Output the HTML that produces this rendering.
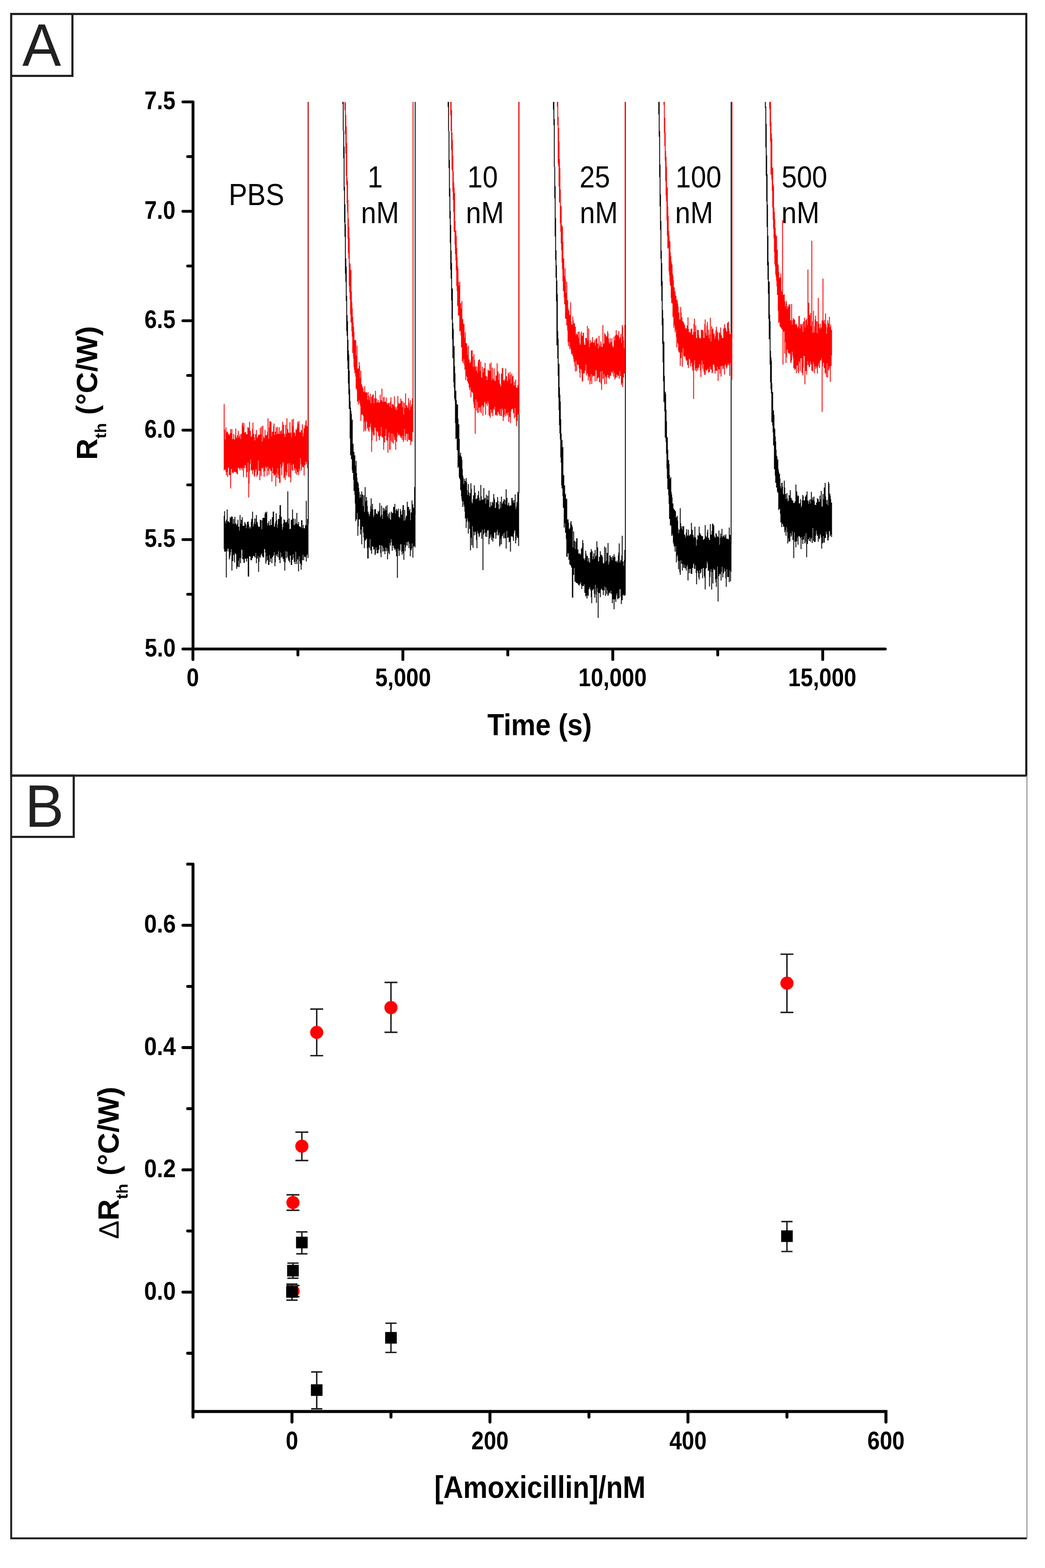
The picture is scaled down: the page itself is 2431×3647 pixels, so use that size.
<!DOCTYPE html><html><head><meta charset="utf-8"><title>Figure</title><style>html,body{margin:0;padding:0;background:#fff;}svg{display:block;}</style></head><body><svg width="2431" height="3647" viewBox="0 0 2431 3647">
<g fill="none" stroke="#222120">
<path d="M26,32.5 H2387.5 V1804 H26 Z" stroke-width="5"/>
<path d="M26,32.5 H168.5 V176.5 H26" stroke-width="5"/>
<path d="M26,1804 V3578 H2389" stroke-width="4.5"/>
<path d="M2389,1804 V3578" stroke="#8a8a8a" stroke-width="2.2"/>
<path d="M28,1804 H171.5 V1946.5 H28" stroke-width="5"/>
</g>
<text transform="translate(51.93,153.00) scale(0.963,1)" font-family="Liberation Sans, sans-serif" font-weight="normal" font-size="140" fill="#222120">A</text>
<text transform="translate(58.03,1923.10) scale(0.98,1)" font-family="Liberation Sans, sans-serif" font-weight="normal" font-size="138.6" fill="#222120">B</text>
<path d="M449,237.0 V1509.5 H2059.5 M425.5,237.0 H449 M436.5,364.2 H449 M425.5,491.5 H449 M436.5,618.8 H449 M425.5,746.0 H449 M436.5,873.2 H449 M425.5,1000.5 H449 M436.5,1127.8 H449 M425.5,1255.0 H449 M436.5,1382.2 H449 M425.5,1509.5 H449 M448.8,1509.5 V1534 M693.0,1509.5 V1523.5 M937.2,1509.5 V1534 M1181.3,1509.5 V1523.5 M1425.5,1509.5 V1534 M1669.7,1509.5 V1523.5 M1913.9,1509.5 V1534" stroke="#000" stroke-width="6.6" fill="none" stroke-linecap="round"/>
<text transform="translate(335.89,254.00) scale(0.88,1)" font-family="Liberation Sans, sans-serif" font-weight="bold" font-size="59" fill="#000">7.5</text>
<text transform="translate(335.89,508.50) scale(0.88,1)" font-family="Liberation Sans, sans-serif" font-weight="bold" font-size="59" fill="#000">7.0</text>
<text transform="translate(335.89,763.00) scale(0.88,1)" font-family="Liberation Sans, sans-serif" font-weight="bold" font-size="59" fill="#000">6.5</text>
<text transform="translate(335.89,1017.50) scale(0.88,1)" font-family="Liberation Sans, sans-serif" font-weight="bold" font-size="59" fill="#000">6.0</text>
<text transform="translate(335.89,1272.00) scale(0.88,1)" font-family="Liberation Sans, sans-serif" font-weight="bold" font-size="59" fill="#000">5.5</text>
<text transform="translate(336.41,1526.50) scale(0.88,1)" font-family="Liberation Sans, sans-serif" font-weight="bold" font-size="59" fill="#000">5.0</text>
<text transform="translate(433.89,1596.30) scale(0.88,1)" font-family="Liberation Sans, sans-serif" font-weight="bold" font-size="59" fill="#000">0</text>
<text transform="translate(872.66,1596.30) scale(0.88,1)" font-family="Liberation Sans, sans-serif" font-weight="bold" font-size="59" fill="#000">5,000</text>
<text transform="translate(1345.51,1596.30) scale(0.88,1)" font-family="Liberation Sans, sans-serif" font-weight="bold" font-size="59" fill="#000">10,000</text>
<text transform="translate(1833.41,1596.30) scale(0.88,1)" font-family="Liberation Sans, sans-serif" font-weight="bold" font-size="59" fill="#000">15,000</text>
<text transform="translate(1133.66,1709.60) scale(0.895,1)" font-family="Liberation Sans, sans-serif" font-weight="bold" font-size="71.2" fill="#000">Time (s)</text>
<text transform="translate(532.03,476.50) scale(0.923,1)" font-family="Liberation Sans, sans-serif" font-weight="normal" font-size="70" fill="#000">PBS</text>
<text transform="translate(854.92,436.00) scale(0.91,1)" font-family="Liberation Sans, sans-serif" font-weight="normal" font-size="70" fill="#000">1</text>
<text transform="translate(1087.22,436.00) scale(0.91,1)" font-family="Liberation Sans, sans-serif" font-weight="normal" font-size="70" fill="#000">10</text>
<text transform="translate(1348.32,436.00) scale(0.91,1)" font-family="Liberation Sans, sans-serif" font-weight="normal" font-size="70" fill="#000">25</text>
<text transform="translate(1571.82,436.00) scale(0.91,1)" font-family="Liberation Sans, sans-serif" font-weight="normal" font-size="70" fill="#000">100</text>
<text transform="translate(1818.25,436.00) scale(0.91,1)" font-family="Liberation Sans, sans-serif" font-weight="normal" font-size="70" fill="#000">500</text>
<text transform="translate(839.76,519.00) scale(0.91,1)" font-family="Liberation Sans, sans-serif" font-weight="normal" font-size="70" fill="#000">nM</text>
<text transform="translate(1083.86,519.00) scale(0.91,1)" font-family="Liberation Sans, sans-serif" font-weight="normal" font-size="70" fill="#000">nM</text>
<text transform="translate(1348.86,519.00) scale(0.91,1)" font-family="Liberation Sans, sans-serif" font-weight="normal" font-size="70" fill="#000">nM</text>
<text transform="translate(1570.56,519.00) scale(0.91,1)" font-family="Liberation Sans, sans-serif" font-weight="normal" font-size="70" fill="#000">nM</text>
<text transform="translate(1817.86,519.00) scale(0.91,1)" font-family="Liberation Sans, sans-serif" font-weight="normal" font-size="70" fill="#000">nM</text>
<path d="M449,2009.9 V3286 M436.5,2009.9 H449 M425.5,2152.1 H449 M436.5,2294.3 H449 M425.5,2436.5 H449 M436.5,2578.7 H449 M425.5,2720.9 H449 M436.5,2863.1 H449 M425.5,3005.3 H449 M436.5,3147.5 H449 M448.9,3283 V3296 M679.2,3283 V3307.5 M909.5,3283 V3296 M1139.8,3283 V3307.5 M1370.1,3283 V3296 M1600.4,3283 V3307.5 M1830.7,3283 V3296" stroke="#000" stroke-width="6.8" fill="none" stroke-linecap="round"/>
<path d="M449,3283 H2061.0 V3307.5" stroke="#000" stroke-width="7" fill="none" stroke-linecap="round" stroke-linejoin="miter"/>
<text transform="translate(335.25,2169.40) scale(0.9,1)" font-family="Liberation Sans, sans-serif" font-weight="bold" font-size="59" fill="#000">0.6</text>
<text transform="translate(335.25,2453.80) scale(0.9,1)" font-family="Liberation Sans, sans-serif" font-weight="bold" font-size="59" fill="#000">0.4</text>
<text transform="translate(335.25,2738.20) scale(0.9,1)" font-family="Liberation Sans, sans-serif" font-weight="bold" font-size="59" fill="#000">0.2</text>
<text transform="translate(335.25,3022.60) scale(0.9,1)" font-family="Liberation Sans, sans-serif" font-weight="bold" font-size="59" fill="#000">0.0</text>
<text transform="translate(664.79,3370.60) scale(0.88,1)" font-family="Liberation Sans, sans-serif" font-weight="bold" font-size="59" fill="#000">0</text>
<text transform="translate(1096.58,3370.60) scale(0.88,1)" font-family="Liberation Sans, sans-serif" font-weight="bold" font-size="59" fill="#000">200</text>
<text transform="translate(1557.18,3370.60) scale(0.88,1)" font-family="Liberation Sans, sans-serif" font-weight="bold" font-size="59" fill="#000">400</text>
<text transform="translate(2017.78,3370.60) scale(0.88,1)" font-family="Liberation Sans, sans-serif" font-weight="bold" font-size="59" fill="#000">600</text>
<text transform="translate(1010.40,3483.60) scale(0.872,1)" font-family="Liberation Sans, sans-serif" font-weight="bold" font-size="73" fill="#000">[Amoxicillin]/nM</text>
<path d="M681.7,2990.0 V3016.0 M666.7,2990.0 H696.7 M666.7,3016.0 H696.7" stroke="#1e1e1e" stroke-width="3.4" fill="none"/>
<circle cx="681.7" cy="3003.3" r="15.3" fill="#ff0000"/>
<path d="M681.5,2779.0 V2815.0 M666.5,2779.0 H696.5 M666.5,2815.0 H696.5" stroke="#1e1e1e" stroke-width="3.4" fill="none"/>
<circle cx="681.5" cy="2797.0" r="15.3" fill="#ff0000"/>
<path d="M702.2,2633.2 V2699.3 M687.2,2633.2 H717.2 M687.2,2699.3 H717.2" stroke="#1e1e1e" stroke-width="3.4" fill="none"/>
<circle cx="702.2" cy="2666.0" r="15.3" fill="#ff0000"/>
<path d="M736.8,2347.0 V2455.4 M721.8,2347.0 H751.8 M721.8,2455.4 H751.8" stroke="#1e1e1e" stroke-width="3.4" fill="none"/>
<circle cx="736.8" cy="2401.2" r="15.3" fill="#ff0000"/>
<path d="M909.5,2285.0 V2401.0 M894.5,2285.0 H924.5 M894.5,2401.0 H924.5" stroke="#1e1e1e" stroke-width="3.4" fill="none"/>
<circle cx="909.5" cy="2343.6" r="15.3" fill="#ff0000"/>
<path d="M1830.7,2219.4 V2354.8 M1815.7,2219.4 H1845.7 M1815.7,2354.8 H1845.7" stroke="#1e1e1e" stroke-width="3.4" fill="none"/>
<circle cx="1830.7" cy="2286.7" r="15.3" fill="#ff0000"/>
<path d="M679.2,2986.7 V3024.0 M666.2,2986.7 H692.2 M666.2,3024.0 H692.2" stroke="#1e1e1e" stroke-width="3.4" fill="none"/>
<rect x="665.7" y="2991.3" width="27" height="27" fill="#000"/>
<path d="M681.5,2937.9 V2973.0 M668.5,2937.9 H694.5 M668.5,2973.0 H694.5" stroke="#1e1e1e" stroke-width="3.4" fill="none"/>
<rect x="668.0" y="2941.9" width="27" height="27" fill="#000"/>
<path d="M702.2,2865.2 V2916.2 M689.2,2865.2 H715.2 M689.2,2916.2 H715.2" stroke="#1e1e1e" stroke-width="3.4" fill="none"/>
<rect x="688.7" y="2876.5" width="27" height="27" fill="#000"/>
<path d="M736.8,3191.0 V3276.8 M723.8,3191.0 H749.8 M723.8,3276.8 H749.8" stroke="#1e1e1e" stroke-width="3.4" fill="none"/>
<rect x="723.3" y="3219.7" width="27" height="27" fill="#000"/>
<path d="M909.5,3077.6 V3145.6 M896.5,3077.6 H922.5 M896.5,3145.6 H922.5" stroke="#1e1e1e" stroke-width="3.4" fill="none"/>
<rect x="896.0" y="3098.1" width="27" height="27" fill="#000"/>
<path d="M1830.7,2841.2 V2910.9 M1817.7,2841.2 H1843.7 M1817.7,2910.9 H1843.7" stroke="#1e1e1e" stroke-width="3.4" fill="none"/>
<rect x="1817.2" y="2861.7" width="27" height="27" fill="#000"/>
<text transform="translate(226.3,1069.6) rotate(-90) scale(1.01,1)" font-family="Liberation Sans, sans-serif" font-weight="bold" font-size="68" fill="#000">R<tspan font-size="37.7" dy="21">th</tspan><tspan dy="-21"> (°C/W)</tspan></text>
<text transform="translate(275.7,2882) rotate(-90) scale(1.01,1)" font-family="Liberation Sans, sans-serif" font-weight="bold" font-size="68" fill="#000"><tspan font-weight="normal" font-size="64">&#916;</tspan>R<tspan font-size="37.7" dy="21">th</tspan><tspan dy="-21"> (°C/W)</tspan></text>
<defs><clipPath id="cA"><rect x="452" y="237" width="1700" height="1270"/></clipPath></defs>
<g clip-path="url(#cA)" fill="none" stroke-width="2.0"><path d="M521.5,1200V1277M522.5,1189V1283M523.5,1212V1269M524.5,1217V1283M525.5,1222V1274M526.5,1211V1343M527.5,1208V1272M528.5,1185V1282M529.5,1214V1263M530.5,1214V1276M531.5,1212V1274M532.5,1215V1283M533.5,1215V1301M534.5,1237V1296M535.5,1203V1291M536.5,1205V1284M537.5,1215V1277M538.5,1201V1268M539.5,1225V1327M540.5,1202V1283M541.5,1240V1305M542.5,1218V1279M543.5,1207V1291M544.5,1219V1278M545.5,1221V1308M546.5,1202V1286M547.5,1218V1279M548.5,1217V1289M549.5,1222V1289M550.5,1237V1323M551.5,1219V1317M552.5,1229V1290M553.5,1209V1319M554.5,1229V1304M555.5,1225V1299M556.5,1234V1319M557.5,1234V1298M558.5,1198V1296M559.5,1227V1310M560.5,1218V1298M561.5,1209V1279M562.5,1226V1273M563.5,1203V1278M564.5,1230V1300M565.5,1223V1301M566.5,1227V1272M567.5,1223V1309M568.5,1238V1309M569.5,1214V1293M570.5,1218V1299M571.5,1218V1288M572.5,1240V1300M573.5,1229V1306M574.5,1222V1285M575.5,1214V1299M576.5,1219V1290M577.5,1213V1341M578.5,1220V1341M579.5,1229V1287M580.5,1238V1294M581.5,1225V1294M582.5,1229V1274M583.5,1255V1303M584.5,1214V1279M585.5,1207V1303M586.5,1207V1283M587.5,1190V1298M588.5,1229V1278M589.5,1225V1293M590.5,1220V1282M591.5,1215V1294M592.5,1206V1267M593.5,1220V1297M594.5,1219V1283M595.5,1206V1286M596.5,1198V1310M597.5,1231V1290M598.5,1214V1299M599.5,1221V1279M600.5,1225V1293M601.5,1234V1330M602.5,1225V1307M603.5,1225V1278M604.5,1237V1295M605.5,1209V1297M606.5,1223V1291M607.5,1210V1290M608.5,1233V1287M609.5,1231V1283M610.5,1210V1294M611.5,1205V1294M612.5,1222V1297M613.5,1204V1295M614.5,1207V1270M615.5,1205V1277M616.5,1195V1274M617.5,1191V1285M618.5,1194V1311M619.5,1220V1306M620.5,1190V1279M621.5,1216V1293M622.5,1225V1303M623.5,1222V1286M624.5,1217V1314M625.5,1212V1314M626.5,1222V1291M627.5,1222V1284M628.5,1231V1307M629.5,1208V1286M630.5,1230V1299M631.5,1221V1281M632.5,1221V1310M633.5,1203V1285M634.5,1219V1296M635.5,1190V1269M636.5,1190V1292M637.5,1227V1279M638.5,1225V1284M639.5,1231V1317M640.5,1218V1308M641.5,1213V1290M642.5,1194V1276M643.5,1210V1293M644.5,1241V1281M645.5,1227V1289M646.5,1220V1296M647.5,1207V1276M648.5,1218V1282M649.5,1207V1302M650.5,1198V1290M651.5,1175V1310M652.5,1175V1275M653.5,1226V1285M654.5,1202V1297M655.5,1219V1291M656.5,1233V1294M657.5,1232V1296M658.5,1226V1300M659.5,1217V1272M660.5,1208V1306M661.5,1233V1292M662.5,1210V1327M663.5,1228V1308M664.5,1215V1282M665.5,1218V1275M666.5,1214V1298M667.5,1233V1283M668.5,1209V1271M669.5,1143V1295M670.5,1220V1299M671.5,1218V1304M672.5,1206V1302M673.5,1239V1308M674.5,1231V1287M675.5,1230V1292M676.5,1237V1285M677.5,1209V1314M678.5,1224V1314M679.5,1209V1284M680.5,1185V1302M681.5,1217V1281M682.5,1206V1289M683.5,1225V1298M684.5,1221V1307M685.5,1221V1281M686.5,1207V1312M687.5,1219V1282M688.5,1234V1283M689.5,1217V1306M690.5,1193V1312M691.5,1219V1298M692.5,1219V1301M693.5,1227V1296M694.5,1214V1329M695.5,1231V1294M696.5,1224V1289M697.5,1232V1305M698.5,1225V1311M699.5,1227V1287M700.5,1227V1325M701.5,1210V1314M702.5,1210V1303M703.5,1229V1303M704.5,1230V1281M705.5,1221V1290M706.5,1228V1303M707.5,1229V1295M708.5,1233V1293M709.5,1229V1294M710.5,1222V1296M711.5,1222V1293M712.5,1165V1306M713.5,1234V1292M714.5,1221V1289M715.5,1207V1283M716.5,1218V1298M717.1,1218V150M794.5,-130V-41M795.5,-72V51M796.5,45V157M797.5,157V242M798.5,221V304M799.5,304V368M800.5,341V443M801.5,435V517M802.5,475V551M803.5,522V636M804.5,601V656M805.5,620V700M806.5,688V770M807.5,733V781M808.5,747V839M809.5,790V858M810.5,815V892M811.5,825V917M812.5,862V951M813.5,905V949M814.5,933V1020M815.5,948V1059M816.5,956V1047M817.5,963V1068M818.5,997V1063M819.5,976V1093M820.5,1033V1100M821.5,1032V1096M822.5,1059V1116M823.5,1051V1142M824.5,1062V1132M825.5,1059V1151M826.5,1083V1171M827.5,1093V1212M828.5,1072V1189M829.5,1100V1208M830.5,1111V1178M831.5,1121V1193M832.5,1121V1246M833.5,1125V1224M834.5,1135V1205M835.5,1144V1208M836.5,1158V1208M837.5,1161V1195M838.5,1150V1243M839.5,1175V1232M840.5,1157V1207M841.5,1143V1266M842.5,1150V1221M843.5,1151V1225M844.5,1177V1223M845.5,1177V1239M846.5,1152V1250M847.5,1192V1275M848.5,1191V1257M849.5,1133V1257M850.5,1166V1257M851.5,1199V1253M852.5,1156V1253M853.5,1164V1253M854.5,1177V1275M855.5,1199V1299M856.5,1190V1299M857.5,1195V1272M858.5,1201V1256M859.5,1201V1275M860.5,1196V1250M861.5,1190V1254M862.5,1177V1280M863.5,1159V1280M864.5,1183V1288M865.5,1183V1264M866.5,1172V1271M867.5,1185V1268M868.5,1212V1272M869.5,1203V1278M870.5,1198V1278M871.5,1185V1278M872.5,1193V1291M873.5,1184V1288M874.5,1197V1263M875.5,1194V1273M876.5,1210V1279M877.5,1196V1287M878.5,1199V1287M879.5,1189V1286M880.5,1192V1279M881.5,1192V1278M882.5,1187V1262M883.5,1170V1268M884.5,1203V1266M885.5,1208V1286M886.5,1199V1296M887.5,1176V1262M888.5,1197V1268M889.5,1212V1270M890.5,1207V1283M891.5,1181V1274M892.5,1189V1272M893.5,1209V1282M894.5,1183V1260M895.5,1209V1289M896.5,1187V1273M897.5,1178V1273M898.5,1200V1282M899.5,1187V1275M900.5,1175V1250M901.5,1201V1301M902.5,1214V1281M903.5,1195V1260M904.5,1205V1286M905.5,1207V1289M906.5,1192V1263M907.5,1208V1263M908.5,1212V1269M909.5,1209V1245M910.5,1190V1254M911.5,1194V1261M912.5,1193V1281M913.5,1193V1267M914.5,1208V1269M915.5,1179V1253M916.5,1179V1275M917.5,1185V1264M918.5,1172V1279M919.5,1199V1276M920.5,1194V1276M921.5,1186V1283M922.5,1184V1294M923.5,1188V1287M924.5,1188V1344M925.5,1212V1267M926.5,1183V1276M927.5,1206V1281M928.5,1202V1293M929.5,1208V1261M930.5,1205V1280M931.5,1184V1263M932.5,1189V1266M933.5,1207V1252M934.5,1197V1283M935.5,1223V1290M936.5,1186V1273M937.5,1175V1282M938.5,1175V1287M939.5,1211V1302M940.5,1220V1267M941.5,1186V1254M942.5,1210V1282M943.5,1216V1273M944.5,1204V1268M945.5,1200V1258M946.5,1199V1261M947.5,1167V1269M948.5,1203V1254M949.5,1179V1260M950.5,1179V1255M951.5,1218V1275M952.5,1188V1264M953.5,1184V1260M954.5,1210V1294M955.5,1217V1261M956.5,1192V1280M957.5,1199V1276M958.5,1164V1264M959.5,1198V1264M960.5,1173V1297M961.5,1208V1273M962.5,1181V1268M963.5,1196V1270M964.5,1133V1258M965.5,1198V1273M965.8,1198V150M1039.5,-136V-24M1040.5,-53V109M1041.5,51V179M1042.5,147V249M1043.5,205V305M1044.5,305V391M1045.5,372V457M1046.5,438V508M1047.5,491V565M1048.5,523V627M1049.5,583V648M1050.5,612V699M1051.5,678V743M1052.5,671V789M1053.5,751V833M1054.5,765V824M1055.5,805V889M1056.5,805V901M1057.5,852V927M1058.5,868V932M1059.5,911V984M1060.5,909V1021M1061.5,930V995M1062.5,940V1019M1063.5,941V1047M1064.5,941V1033M1065.5,974V1088M1066.5,1001V1085M1067.5,987V1076M1068.5,1021V1110M1069.5,1059V1113M1070.5,1060V1115M1071.5,1053V1139M1072.5,1062V1141M1073.5,1062V1154M1074.5,1069V1162M1075.5,1090V1166M1076.5,1106V1179M1077.5,1111V1163M1078.5,1126V1166M1079.5,1129V1174M1080.5,1114V1179M1081.5,1129V1190M1082.5,1119V1206M1083.5,1133V1200M1084.5,1112V1228M1085.5,1122V1214M1086.5,1140V1205M1087.5,1157V1201M1088.5,1151V1211M1089.5,1126V1241M1090.5,1144V1214M1091.5,1154V1209M1092.5,1162V1230M1093.5,1147V1193M1094.5,1153V1280M1095.5,1124V1228M1096.5,1137V1251M1097.5,1168V1268M1098.5,1176V1224M1099.5,1171V1220M1100.5,1161V1274M1101.5,1152V1236M1102.5,1160V1227M1103.5,1129V1245M1104.5,1165V1233M1105.5,1146V1237M1106.5,1178V1237M1107.5,1161V1243M1108.5,1171V1256M1109.5,1159V1275M1110.5,1160V1235M1111.5,1152V1221M1112.5,1152V1241M1113.5,1142V1241M1114.5,1158V1249M1115.5,1182V1246M1116.5,1164V1220M1117.5,1183V1239M1118.5,1128V1219M1119.5,1154V1237M1120.5,1162V1253M1121.5,1175V1232M1122.5,1162V1225M1123.5,1162V1326M1124.5,1165V1244M1125.5,1135V1241M1126.5,1160V1231M1127.5,1165V1230M1128.5,1158V1239M1129.5,1171V1248M1130.5,1171V1239M1131.5,1151V1239M1132.5,1171V1249M1133.5,1162V1234M1134.5,1153V1234M1135.5,1165V1226M1136.5,1163V1233M1137.5,1141V1266M1138.5,1179V1247M1139.5,1180V1252M1140.5,1180V1248M1141.5,1168V1233M1142.5,1186V1243M1143.5,1176V1256M1144.5,1183V1234M1145.5,1167V1249M1146.5,1170V1260M1147.5,1174V1246M1148.5,1149V1252M1149.5,1158V1239M1150.5,1162V1238M1151.5,1182V1232M1152.5,1194V1239M1153.5,1181V1253M1154.5,1168V1245M1155.5,1169V1237M1156.5,1176V1232M1157.5,1156V1229M1158.5,1165V1245M1159.5,1173V1245M1160.5,1186V1235M1161.5,1184V1239M1162.5,1184V1271M1163.5,1167V1267M1164.5,1181V1253M1165.5,1184V1237M1166.5,1155V1266M1167.5,1170V1237M1168.5,1176V1247M1169.5,1172V1241M1170.5,1166V1242M1171.5,1166V1252M1172.5,1161V1233M1173.5,1162V1239M1174.5,1179V1252M1175.5,1173V1252M1176.5,1163V1242M1177.5,1138V1276M1178.5,1166V1233M1179.5,1158V1235M1180.5,1176V1251M1181.5,1189V1246M1182.5,1174V1250M1183.5,1169V1245M1184.5,1192V1261M1185.5,1177V1259M1186.5,1189V1250M1187.5,1175V1283M1188.5,1177V1247M1189.5,1176V1230M1190.5,1158V1248M1191.5,1158V1247M1192.5,1164V1247M1193.5,1172V1250M1194.5,1169V1258M1195.5,1163V1240M1196.5,1170V1231M1197.5,1181V1234M1198.5,1150V1232M1199.5,1184V1264M1200.5,1192V1256M1201.5,1178V1246M1202.5,1168V1237M1203.5,1190V1251M1204.5,1144V1251M1205.5,1177V1230M1206.5,1148V1270M1207.3,1148V150M1284.5,-162V-68M1285.5,-93V29M1286.5,22V154M1287.5,117V255M1288.5,218V291M1289.5,277V388M1290.5,388V461M1291.5,433V550M1292.5,507V605M1293.5,582V646M1294.5,617V701M1295.5,653V803M1296.5,684V802M1297.5,770V834M1298.5,788V874M1299.5,845V925M1300.5,847V954M1301.5,901V989M1302.5,918V1008M1303.5,934V1022M1304.5,975V1064M1305.5,1008V1076M1306.5,1052V1129M1307.5,1023V1136M1308.5,1062V1132M1309.5,1040V1154M1310.5,1106V1181M1311.5,1105V1175M1312.5,1136V1227M1313.5,1129V1217M1314.5,1148V1215M1315.5,1150V1239M1316.5,1182V1236M1317.5,1160V1254M1318.5,1160V1295M1319.5,1220V1295M1320.5,1208V1277M1321.5,1208V1287M1322.5,1216V1272M1323.5,1238V1302M1324.5,1230V1282M1325.5,1237V1313M1326.5,1227V1309M1327.5,1216V1315M1328.5,1212V1305M1329.5,1220V1320M1330.5,1222V1317M1331.5,1226V1390M1332.5,1273V1390M1333.5,1275V1311M1334.5,1236V1337M1335.5,1264V1321M1336.5,1258V1319M1337.5,1282V1353M1338.5,1277V1353M1339.5,1260V1330M1340.5,1266V1356M1341.5,1252V1356M1342.5,1252V1356M1343.5,1280V1341M1344.5,1278V1358M1345.5,1287V1360M1346.5,1290V1330M1347.5,1288V1362M1348.5,1287V1356M1349.5,1291V1358M1350.5,1294V1352M1351.5,1288V1354M1352.5,1276V1361M1353.5,1276V1370M1354.5,1273V1355M1355.5,1256V1363M1356.5,1263V1362M1357.5,1298V1363M1358.5,1300V1352M1359.5,1304V1359M1360.5,1303V1379M1361.5,1298V1374M1362.5,1281V1387M1363.5,1288V1385M1364.5,1293V1367M1365.5,1298V1392M1366.5,1293V1384M1367.5,1312V1379M1368.5,1306V1386M1369.5,1298V1369M1370.5,1314V1370M1371.5,1308V1365M1372.5,1312V1361M1373.5,1285V1370M1374.5,1284V1374M1375.5,1277V1389M1376.5,1282V1403M1377.5,1282V1369M1378.5,1301V1373M1379.5,1330V1360M1380.5,1294V1370M1381.5,1287V1365M1382.5,1300V1381M1383.5,1307V1390M1384.5,1279V1357M1385.5,1302V1360M1386.5,1295V1383M1387.5,1292V1402M1388.5,1259V1368M1389.5,1290V1368M1390.5,1273V1377M1391.5,1306V1437M1392.5,1313V1380M1393.5,1305V1377M1394.5,1295V1379M1395.5,1303V1375M1396.5,1282V1389M1397.5,1294V1372M1398.5,1290V1359M1399.5,1296V1369M1400.5,1292V1370M1401.5,1296V1373M1402.5,1309V1359M1403.5,1310V1384M1404.5,1323V1366M1405.5,1311V1373M1406.5,1271V1364M1407.5,1325V1363M1408.5,1306V1386M1409.5,1274V1367M1410.5,1304V1367M1411.5,1311V1382M1412.5,1286V1368M1413.5,1309V1373M1414.5,1263V1386M1415.5,1322V1383M1416.5,1313V1379M1417.5,1307V1375M1418.5,1292V1378M1419.5,1292V1380M1420.5,1297V1373M1421.5,1323V1374M1422.5,1296V1381M1423.5,1303V1382M1424.5,1322V1403M1425.5,1293V1369M1426.5,1297V1394M1427.5,1311V1371M1428.5,1289V1417M1429.5,1318V1387M1430.5,1295V1394M1431.5,1327V1379M1432.5,1305V1400M1433.5,1310V1385M1434.5,1308V1380M1435.5,1304V1365M1436.5,1308V1392M1437.5,1316V1394M1438.5,1292V1369M1439.5,1285V1391M1440.5,1264V1391M1441.5,1309V1370M1442.5,1323V1370M1443.5,1305V1371M1444.5,1302V1388M1445.5,1321V1405M1446.5,1292V1380M1447.5,1246V1396M1448.5,1315V1380M1449.5,1306V1385M1450.5,1316V1382M1451.5,1320V1368M1452.5,1302V1386M1453.5,1279V1356M1454.5,1308V1384M1454.8,1308V150M1529.5,-171V-73M1530.5,-102V49M1531.5,9V144M1532.5,130V266M1533.5,208V318M1534.5,305V412M1535.5,383V480M1536.5,452V535M1537.5,514V602M1538.5,583V665M1539.5,612V700M1540.5,654V757M1541.5,721V800M1542.5,740V843M1543.5,794V887M1544.5,795V935M1545.5,874V927M1546.5,919V957M1547.5,911V1017M1548.5,916V1019M1549.5,953V1028M1550.5,980V1055M1551.5,1030V1090M1552.5,1017V1113M1553.5,1046V1138M1554.5,1070V1137M1555.5,1070V1152M1556.5,1079V1172M1557.5,1105V1207M1558.5,1114V1202M1559.5,1128V1222M1560.5,1110V1222M1561.5,1144V1223M1562.5,1150V1246M1563.5,1157V1242M1564.5,1172V1225M1565.5,1171V1246M1566.5,1182V1262M1567.5,1184V1266M1568.5,1189V1271M1569.5,1186V1270M1570.5,1200V1283M1571.5,1189V1270M1572.5,1206V1269M1573.5,1203V1308M1574.5,1225V1294M1575.5,1200V1287M1576.5,1211V1291M1577.5,1229V1304M1578.5,1245V1324M1579.5,1240V1288M1580.5,1232V1305M1581.5,1232V1331M1582.5,1182V1337M1583.5,1217V1303M1584.5,1229V1303M1585.5,1237V1311M1586.5,1224V1310M1587.5,1232V1327M1588.5,1241V1312M1589.5,1224V1287M1590.5,1224V1320M1591.5,1260V1321M1592.5,1243V1314M1593.5,1246V1314M1594.5,1250V1322M1595.5,1251V1322M1596.5,1239V1327M1597.5,1231V1318M1598.5,1253V1314M1599.5,1246V1313M1600.5,1245V1350M1601.5,1232V1324M1602.5,1262V1324M1603.5,1246V1333M1604.5,1260V1310M1605.5,1243V1323M1606.5,1243V1301M1607.5,1253V1334M1608.5,1216V1304M1609.5,1232V1335M1610.5,1233V1318M1611.5,1250V1321M1612.5,1244V1313M1613.5,1251V1310M1614.5,1253V1305M1615.5,1248V1323M1616.5,1225V1323M1617.5,1252V1315M1618.5,1250V1314M1619.5,1269V1333M1620.5,1271V1359M1621.5,1255V1328M1622.5,1265V1327M1623.5,1245V1313M1624.5,1266V1333M1625.5,1246V1343M1626.5,1225V1348M1627.5,1241V1326M1628.5,1240V1326M1629.5,1245V1334M1630.5,1244V1331M1631.5,1253V1313M1632.5,1247V1323M1633.5,1261V1323M1634.5,1247V1345M1635.5,1255V1310M1636.5,1268V1321M1637.5,1256V1319M1638.5,1253V1340M1639.5,1273V1344M1640.5,1221V1371M1641.5,1246V1323M1642.5,1250V1316M1643.5,1254V1321M1644.5,1248V1297M1645.5,1238V1306M1646.5,1232V1311M1647.5,1261V1328M1648.5,1251V1326M1649.5,1256V1299M1650.5,1256V1364M1651.5,1268V1342M1652.5,1219V1330M1653.5,1244V1324M1654.5,1258V1304M1655.5,1243V1371M1656.5,1235V1321M1657.5,1218V1331M1658.5,1218V1357M1659.5,1246V1313M1660.5,1222V1322M1661.5,1246V1326M1662.5,1257V1310M1663.5,1250V1324M1664.5,1261V1347M1665.5,1240V1354M1666.5,1242V1365M1667.5,1246V1346M1668.5,1274V1318M1669.5,1248V1312M1670.5,1264V1399M1671.5,1249V1324M1672.5,1234V1340M1673.5,1267V1329M1674.5,1277V1335M1675.5,1251V1335M1676.5,1241V1321M1677.5,1247V1350M1678.5,1265V1330M1679.5,1230V1303M1680.5,1250V1318M1681.5,1250V1343M1682.5,1247V1334M1683.5,1265V1332M1684.5,1244V1322M1685.5,1265V1314M1686.5,1250V1329M1687.5,1247V1316M1688.5,1243V1345M1689.5,1252V1365M1690.5,1263V1299M1691.5,1254V1324M1692.5,1253V1342M1693.5,1262V1342M1694.5,1254V1342M1695.5,1265V1339M1696.5,1227V1354M1697.5,1254V1313M1698.5,1244V1327M1699.5,1263V1352M1700.5,1266V1330M1700.8,1266V150M1777.5,-141V-41M1778.5,-51V72M1779.5,49V189M1780.5,174V251M1781.5,248V343M1782.5,288V409M1783.5,361V468M1784.5,405V528M1785.5,476V617M1786.5,548V650M1787.5,609V683M1788.5,657V742M1789.5,655V789M1790.5,732V788M1791.5,747V848M1792.5,816V889M1793.5,831V905M1794.5,839V915M1795.5,891V982M1796.5,920V965M1797.5,912V990M1798.5,954V1006M1799.5,955V1035M1800.5,965V1037M1801.5,996V1091M1802.5,998V1084M1803.5,1015V1106M1804.5,1027V1123M1805.5,1046V1099M1806.5,1060V1134M1807.5,1062V1134M1808.5,1091V1143M1809.5,1069V1146M1810.5,1091V1140M1811.5,1097V1186M1812.5,1107V1184M1813.5,1102V1183M1814.5,1113V1177M1815.5,1131V1195M1816.5,1143V1215M1817.5,1136V1202M1818.5,1123V1226M1819.5,1123V1218M1820.5,1132V1197M1821.5,1148V1219M1822.5,1151V1225M1823.5,1160V1225M1824.5,1118V1222M1825.5,1134V1238M1826.5,1149V1230M1827.5,1149V1233M1828.5,1172V1246M1829.5,1161V1226M1830.5,1147V1223M1831.5,1159V1237M1832.5,1169V1264M1833.5,1166V1227M1834.5,1164V1252M1835.5,1152V1260M1836.5,1152V1243M1837.5,1159V1259M1838.5,1140V1234M1839.5,1176V1240M1840.5,1158V1248M1841.5,1169V1245M1842.5,1162V1236M1843.5,1178V1236M1844.5,1165V1256M1845.5,1171V1237M1846.5,1170V1298M1847.5,1170V1232M1848.5,1183V1238M1849.5,1166V1260M1850.5,1181V1239M1851.5,1127V1273M1852.5,1192V1232M1853.5,1143V1259M1854.5,1151V1250M1855.5,1168V1248M1856.5,1155V1267M1857.5,1153V1226M1858.5,1173V1247M1859.5,1171V1236M1860.5,1184V1248M1861.5,1170V1251M1862.5,1161V1226M1863.5,1184V1277M1864.5,1180V1249M1865.5,1176V1241M1866.5,1164V1256M1867.5,1151V1265M1868.5,1154V1248M1869.5,1170V1255M1870.5,1164V1247M1871.5,1188V1247M1872.5,1164V1264M1873.5,1155V1260M1874.5,1191V1240M1875.5,1151V1235M1876.5,1180V1296M1877.5,1143V1231M1878.5,1186V1265M1879.5,1164V1254M1880.5,1172V1254M1881.5,1198V1235M1882.5,1166V1258M1883.5,1162V1250M1884.5,1171V1247M1885.5,1177V1260M1886.5,1161V1254M1887.5,1144V1231M1888.5,1163V1251M1889.5,1193V1263M1890.5,1157V1228M1891.5,1182V1224M1892.5,1163V1258M1893.5,1155V1245M1894.5,1166V1261M1895.5,1188V1234M1896.5,1174V1260M1897.5,1175V1246M1898.5,1178V1234M1899.5,1169V1234M1900.5,1181V1242M1901.5,1159V1246M1902.5,1176V1235M1903.5,1161V1260M1904.5,1167V1251M1905.5,1167V1244M1906.5,1182V1254M1907.5,1153V1242M1908.5,1168V1240M1909.5,1162V1245M1910.5,1142V1250M1911.5,1183V1276M1912.5,1178V1264M1913.5,1183V1263M1914.5,1149V1247M1915.5,1176V1243M1916.5,1161V1262M1917.5,1134V1262M1918.5,1165V1252M1919.5,1123V1239M1920.5,1155V1251M1921.5,1162V1229M1922.5,1172V1236M1923.5,1192V1242M1924.5,1163V1243M1925.5,1175V1257M1926.5,1192V1257M1927.5,1121V1250M1928.5,1125V1232M1929.5,1169V1235M1930.5,1148V1236M1931.5,1153V1247M1932.5,1161V1235M1933.5,1170V1243M1934.5,1169V1249" stroke="#000"/><path d="M521.5,940V1094M522.5,999V1091M523.5,1022V1092M524.5,1032V1078M525.5,994V1097M526.5,1003V1105M527.5,1006V1098M528.5,1013V1062M529.5,1004V1109M530.5,1022V1084M531.5,1009V1088M532.5,1032V1086M533.5,1012V1105M534.5,1017V1105M535.5,1008V1096M536.5,998V1136M537.5,1007V1080M538.5,1029V1091M539.5,998V1083M540.5,1022V1099M541.5,1037V1099M542.5,1020V1101M543.5,1009V1073M544.5,1030V1098M545.5,1022V1096M546.5,1024V1097M547.5,1012V1097M548.5,997V1099M549.5,1017V1099M550.5,1019V1087M551.5,1020V1103M552.5,1012V1103M553.5,1025V1087M554.5,1002V1088M555.5,1018V1085M556.5,1027V1090M557.5,1014V1077M558.5,1010V1094M559.5,1021V1080M560.5,1029V1088M561.5,1009V1090M562.5,1019V1086M563.5,987V1094M564.5,983V1072M565.5,993V1087M566.5,992V1110M567.5,984V1078M568.5,1010V1089M569.5,1006V1073M570.5,1013V1082M571.5,1005V1071M572.5,1017V1089M573.5,1010V1110M574.5,1010V1082M575.5,1021V1098M576.5,994V1076M577.5,994V1068M578.5,1007V1157M579.5,996V1125M580.5,981V1096M581.5,1022V1079M582.5,1002V1067M583.5,1019V1069M584.5,1016V1094M585.5,1025V1094M586.5,1013V1086M587.5,998V1103M588.5,983V1087M589.5,1022V1093M590.5,1009V1070M591.5,1017V1108M592.5,1027V1108M593.5,1024V1098M594.5,1010V1089M595.5,1010V1092M596.5,1000V1090M597.5,1017V1109M598.5,1019V1088M599.5,1036V1105M600.5,1015V1071M601.5,1011V1071M602.5,1014V1095M603.5,1011V1085M604.5,1024V1117M605.5,995V1095M606.5,1022V1095M607.5,1010V1107M608.5,992V1069M609.5,1027V1088M610.5,1027V1090M611.5,990V1077M612.5,1015V1087M613.5,1020V1097M614.5,1029V1109M615.5,1017V1096M616.5,1000V1096M617.5,1013V1085M618.5,1025V1080M619.5,1012V1088M620.5,1019V1086M621.5,1011V1107M622.5,1004V1085M623.5,973V1072M624.5,1020V1095M625.5,1022V1104M626.5,994V1084M627.5,980V1090M628.5,980V1076M629.5,1027V1095M630.5,981V1078M631.5,1015V1096M632.5,1032V1120M633.5,1004V1087M634.5,1004V1077M635.5,1027V1101M636.5,991V1064M637.5,985V1106M638.5,1012V1071M639.5,1019V1105M640.5,1004V1105M641.5,1004V1131M642.5,994V1100M643.5,1010V1086M644.5,1011V1111M645.5,993V1089M646.5,1012V1067M647.5,1009V1104M648.5,1009V1113M649.5,994V1086M650.5,1014V1123M651.5,1010V1123M652.5,1003V1071M653.5,1005V1080M654.5,1000V1088M655.5,1023V1105M656.5,1008V1084M657.5,981V1075M658.5,1004V1072M659.5,988V1076M660.5,1027V1112M661.5,1009V1109M662.5,1043V1107M663.5,1016V1116M664.5,988V1090M665.5,1021V1097M666.5,1009V1106M667.5,973V1099M668.5,1031V1080M669.5,998V1077M670.5,1008V1069M671.5,1006V1109M672.5,1008V1109M673.5,1027V1077M674.5,982V1075M675.5,1018V1111M676.5,1006V1122M677.5,1022V1082M678.5,1018V1076M679.5,976V1093M680.5,991V1095M681.5,999V1069M682.5,974V1079M683.5,1010V1081M684.5,1006V1094M685.5,1007V1089M686.5,1020V1077M687.5,1014V1101M688.5,999V1092M689.5,999V1070M690.5,999V1104M691.5,994V1079M692.5,981V1098M693.5,986V1085M694.5,1017V1105M695.5,979V1090M696.5,1005V1090M697.5,1005V1096M698.5,1006V1058M699.5,1007V1066M700.5,1000V1080M701.5,1002V1094M702.5,1005V1087M703.5,987V1084M704.5,1015V1071M705.5,1033V1087M706.5,1007V1082M707.5,996V1106M708.5,1014V1072M709.5,989V1082M710.5,1015V1074M711.5,980V1052M712.5,977V1080M713.5,1000V1074M714.5,991V1066M715.5,991V1089M716.5,1009V1072M716.6,1009V150M799.5,-30V72M800.5,20V150M801.5,99V195M802.5,158V256M803.5,239V312M804.5,267V357M805.5,294V410M806.5,332V430M807.5,413V474M808.5,421V494M809.5,465V555M810.5,508V589M811.5,528V602M812.5,553V665M813.5,612V680M814.5,614V697M815.5,642V731M816.5,628V750M817.5,678V733M818.5,703V771M819.5,717V783M820.5,737V821M821.5,750V814M822.5,760V834M823.5,772V854M824.5,796V860M825.5,791V868M826.5,794V868M827.5,791V876M828.5,841V904M829.5,827V902M830.5,804V908M831.5,861V934M832.5,858V917M833.5,857V941M834.5,857V922M835.5,842V931M836.5,851V938M837.5,884V929M838.5,879V944M839.5,862V979M840.5,902V965M841.5,894V963M842.5,899V964M843.5,901V960M844.5,904V965M845.5,920V968M846.5,911V1004M847.5,916V970M848.5,898V982M849.5,914V999M850.5,913V1003M851.5,912V979M852.5,913V971M853.5,913V982M854.5,929V997M855.5,935V993M856.5,912V984M857.5,920V1001M858.5,939V1004M859.5,931V994M860.5,923V993M861.5,916V985M862.5,952V981M863.5,938V1000M864.5,923V1051M865.5,930V1024M866.5,919V1004M867.5,928V1001M868.5,917V1010M869.5,938V1013M870.5,938V1013M871.5,926V990M872.5,926V994M873.5,909V995M874.5,939V1001M875.5,927V1026M876.5,937V1004M877.5,949V999M878.5,935V1003M879.5,930V1006M880.5,939V1014M881.5,936V996M882.5,936V1024M883.5,943V1017M884.5,918V1002M885.5,941V1014M886.5,931V988M887.5,931V993M888.5,904V1016M889.5,933V1017M890.5,942V1004M891.5,935V1018M892.5,924V1046M893.5,923V998M894.5,945V1029M895.5,934V1002M896.5,935V1014M897.5,947V998M898.5,925V989M899.5,944V1024M900.5,937V1003M901.5,941V1025M902.5,947V1053M903.5,938V1017M904.5,937V996M905.5,937V1006M906.5,957V1046M907.5,946V1046M908.5,933V1025M909.5,924V1005M910.5,962V1008M911.5,949V1028M912.5,940V1029M913.5,940V1009M914.5,941V1009M915.5,944V1032M916.5,973V1012M917.5,922V1015M918.5,946V1023M919.5,955V1018M920.5,952V1046M921.5,947V1027M922.5,954V1027M923.5,954V1016M924.5,944V1002M925.5,921V1006M926.5,965V1011M927.5,938V1012M928.5,950V1010M929.5,939V1008M930.5,962V1014M931.5,938V1001M932.5,927V1018M933.5,939V1018M934.5,932V1010M935.5,966V1023M936.5,947V1008M937.5,934V1013M938.5,964V1028M939.5,966V1023M940.5,937V998M941.5,949V996M942.5,953V1015M943.5,915V1024M944.5,942V1002M945.5,956V1009M946.5,943V1002M947.5,948V1027M948.5,948V1009M949.5,948V1006M950.5,926V1023M951.5,937V1023M952.5,954V1023M953.5,957V1023M954.5,931V1024M955.5,946V1035M956.5,953V1015M957.5,941V1027M958.5,946V1027M959.5,927V1004M960.5,929V1005M960.8,929V150M1045.5,13V123M1046.5,68V168M1047.5,122V202M1048.5,175V268M1049.5,222V305M1050.5,256V349M1051.5,308V394M1052.5,326V398M1053.5,362V446M1054.5,399V465M1055.5,424V493M1056.5,436V539M1057.5,449V536M1058.5,514V569M1059.5,541V591M1060.5,536V606M1061.5,549V629M1062.5,577V665M1063.5,598V677M1064.5,619V712M1065.5,625V704M1066.5,656V734M1067.5,664V734M1068.5,677V731M1069.5,655V771M1070.5,709V763M1071.5,705V769M1072.5,718V780M1073.5,729V808M1074.5,700V795M1075.5,755V840M1076.5,742V834M1077.5,752V845M1078.5,775V825M1079.5,754V835M1080.5,786V849M1081.5,795V860M1082.5,773V860M1083.5,798V884M1084.5,798V855M1085.5,799V874M1086.5,807V877M1087.5,835V887M1088.5,825V885M1089.5,804V892M1090.5,838V880M1091.5,836V901M1092.5,844V907M1093.5,846V896M1094.5,843V901M1095.5,839V924M1096.5,815V911M1097.5,855V911M1098.5,815V907M1099.5,829V914M1100.5,853V899M1101.5,860V934M1102.5,824V941M1103.5,837V949M1104.5,886V937M1105.5,854V1009M1106.5,851V929M1107.5,869V929M1108.5,862V955M1109.5,853V935M1110.5,882V935M1111.5,867V960M1112.5,842V960M1113.5,837V908M1114.5,876V948M1115.5,836V931M1116.5,869V958M1117.5,863V947M1118.5,841V916M1119.5,877V961M1120.5,879V940M1121.5,880V943M1122.5,853V931M1123.5,892V967M1124.5,866V945M1125.5,857V947M1126.5,856V937M1127.5,867V934M1128.5,844V931M1129.5,874V965M1130.5,884V928M1131.5,875V939M1132.5,887V932M1133.5,884V944M1134.5,876V933M1135.5,860V930M1136.5,862V939M1137.5,866V965M1138.5,863V967M1139.5,846V933M1140.5,883V972M1141.5,862V953M1142.5,843V952M1143.5,884V961M1144.5,891V959M1145.5,855V945M1146.5,880V968M1147.5,887V941M1148.5,882V951M1149.5,857V953M1150.5,895V935M1151.5,886V946M1152.5,889V966M1153.5,873V964M1154.5,899V953M1155.5,874V966M1156.5,845V967M1157.5,895V946M1158.5,864V958M1159.5,884V950M1160.5,890V963M1161.5,869V961M1162.5,892V967M1163.5,896V950M1164.5,899V951M1165.5,899V967M1166.5,869V968M1167.5,873V949M1168.5,856V950M1169.5,856V954M1170.5,897V979M1171.5,884V960M1172.5,899V970M1173.5,887V965M1174.5,882V949M1175.5,898V951M1176.5,857V968M1177.5,893V960M1178.5,875V962M1179.5,885V939M1180.5,887V966M1181.5,893V959M1182.5,867V951M1183.5,870V981M1184.5,882V946M1185.5,899V970M1186.5,865V962M1187.5,872V984M1188.5,909V957M1189.5,892V948M1190.5,869V952M1191.5,896V950M1192.5,876V948M1193.5,874V952M1194.5,897V961M1195.5,915V959M1196.5,888V973M1197.5,896V948M1198.5,898V949M1199.5,883V970M1200.5,903V962M1201.5,901V991M1202.5,902V979M1203.5,913V979M1204.5,895V963M1205.5,899V964M1206.5,908V964M1206.8,908V150M1293.5,-10V70M1294.5,47V140M1295.5,133V196M1296.5,154V248M1297.5,191V291M1298.5,272V380M1299.5,298V386M1300.5,329V434M1301.5,370V471M1302.5,391V469M1303.5,441V519M1304.5,478V539M1305.5,480V566M1306.5,523V582M1307.5,526V611M1308.5,527V626M1309.5,563V654M1310.5,607V677M1311.5,601V671M1312.5,642V692M1313.5,645V708M1314.5,624V708M1315.5,649V741M1316.5,681V741M1317.5,682V742M1318.5,655V757M1319.5,704V752M1320.5,698V769M1321.5,717V796M1322.5,735V805M1323.5,722V795M1324.5,733V776M1325.5,735V812M1326.5,732V807M1327.5,703V806M1328.5,748V815M1329.5,755V824M1330.5,755V822M1331.5,781V817M1332.5,736V828M1333.5,745V815M1334.5,752V835M1335.5,779V842M1336.5,752V827M1337.5,766V852M1338.5,760V864M1339.5,781V839M1340.5,778V823M1341.5,776V863M1342.5,782V846M1343.5,780V848M1344.5,772V842M1345.5,794V849M1346.5,786V836M1347.5,771V857M1348.5,798V867M1349.5,805V878M1350.5,802V858M1351.5,775V856M1352.5,771V860M1353.5,781V868M1354.5,781V887M1355.5,792V887M1356.5,774V865M1357.5,774V869M1358.5,797V862M1359.5,807V868M1360.5,802V858M1361.5,810V862M1362.5,786V837M1363.5,786V848M1364.5,787V873M1365.5,787V857M1366.5,758V869M1367.5,792V864M1368.5,801V885M1369.5,764V845M1370.5,815V876M1371.5,808V861M1372.5,799V894M1373.5,791V886M1374.5,798V870M1375.5,799V865M1376.5,795V893M1377.5,811V876M1378.5,784V862M1379.5,797V873M1380.5,801V875M1381.5,797V865M1382.5,804V874M1383.5,791V869M1384.5,805V887M1385.5,804V862M1386.5,788V856M1387.5,807V861M1388.5,786V886M1389.5,802V880M1390.5,799V880M1391.5,810V873M1392.5,821V877M1393.5,781V878M1394.5,803V889M1395.5,813V889M1396.5,806V864M1397.5,794V861M1398.5,799V893M1399.5,819V907M1400.5,807V863M1401.5,813V850M1402.5,756V881M1403.5,809V880M1404.5,799V860M1405.5,805V870M1406.5,775V894M1407.5,780V872M1408.5,778V876M1409.5,783V870M1410.5,784V893M1411.5,782V878M1412.5,799V871M1413.5,770V872M1414.5,775V867M1415.5,787V878M1416.5,796V854M1417.5,800V881M1418.5,800V874M1419.5,787V862M1420.5,807V874M1421.5,797V861M1422.5,795V865M1423.5,787V852M1424.5,803V868M1425.5,819V855M1426.5,808V863M1427.5,806V876M1428.5,783V864M1429.5,795V867M1430.5,792V883M1431.5,780V879M1432.5,791V879M1433.5,768V871M1434.5,778V871M1435.5,781V877M1436.5,779V855M1437.5,797V872M1438.5,782V874M1439.5,770V871M1440.5,817V881M1441.5,789V855M1442.5,785V863M1443.5,784V875M1444.5,777V866M1445.5,798V895M1446.5,808V884M1447.5,756V891M1448.5,761V900M1449.5,783V851M1450.5,792V878M1451.5,815V863M1452.5,810V869M1453.5,756V869M1454.3,756V150M1541.5,5V105M1542.5,93V167M1543.5,122V200M1544.5,171V244M1545.5,208V309M1546.5,274V340M1547.5,308V374M1548.5,351V421M1549.5,365V455M1550.5,388V468M1551.5,439V513M1552.5,436V548M1553.5,480V578M1554.5,502V560M1555.5,537V576M1556.5,548V631M1557.5,560V640M1558.5,562V655M1559.5,587V664M1560.5,596V665M1561.5,608V693M1562.5,613V705M1563.5,616V689M1564.5,637V706M1565.5,642V737M1566.5,652V735M1567.5,675V762M1568.5,668V742M1569.5,688V756M1570.5,678V773M1571.5,688V740M1572.5,688V767M1573.5,697V784M1574.5,697V808M1575.5,699V785M1576.5,706V797M1577.5,713V800M1578.5,740V815M1579.5,727V819M1580.5,759V820M1581.5,743V795M1582.5,748V851M1583.5,714V817M1584.5,727V833M1585.5,766V820M1586.5,738V809M1587.5,747V853M1588.5,747V810M1589.5,756V809M1590.5,750V828M1591.5,769V827M1592.5,755V830M1593.5,761V820M1594.5,764V828M1595.5,773V835M1596.5,764V839M1597.5,788V836M1598.5,757V838M1599.5,770V849M1600.5,738V836M1601.5,765V856M1602.5,791V835M1603.5,773V834M1604.5,772V824M1605.5,775V837M1606.5,786V852M1607.5,765V845M1608.5,769V838M1609.5,764V844M1610.5,778V853M1611.5,779V862M1612.5,779V852M1613.5,772V928M1614.5,753V849M1615.5,741V829M1616.5,772V838M1617.5,782V862M1618.5,757V857M1619.5,787V841M1620.5,799V864M1621.5,785V856M1622.5,767V846M1623.5,768V861M1624.5,768V851M1625.5,779V855M1626.5,795V848M1627.5,786V843M1628.5,795V847M1629.5,788V862M1630.5,786V877M1631.5,767V849M1632.5,768V837M1633.5,767V839M1634.5,784V858M1635.5,769V836M1636.5,800V847M1637.5,786V864M1638.5,792V867M1639.5,754V872M1640.5,743V872M1641.5,774V860M1642.5,801V860M1643.5,781V862M1644.5,757V862M1645.5,749V846M1646.5,791V858M1647.5,780V841M1648.5,767V867M1649.5,795V851M1650.5,787V865M1651.5,778V845M1652.5,739V853M1653.5,794V859M1654.5,795V847M1655.5,759V860M1656.5,769V868M1657.5,766V866M1658.5,764V834M1659.5,776V848M1660.5,776V848M1661.5,776V830M1662.5,788V853M1663.5,789V869M1664.5,782V846M1665.5,768V862M1666.5,760V861M1667.5,780V863M1668.5,772V848M1669.5,774V853M1670.5,788V886M1671.5,792V851M1672.5,792V859M1673.5,773V853M1674.5,796V869M1675.5,775V852M1676.5,762V847M1677.5,787V876M1678.5,780V841M1679.5,806V851M1680.5,786V838M1681.5,786V858M1682.5,793V858M1683.5,764V848M1684.5,766V851M1685.5,754V871M1686.5,792V845M1687.5,762V848M1688.5,766V832M1689.5,784V853M1690.5,771V857M1691.5,795V853M1692.5,751V849M1693.5,796V833M1694.5,748V845M1695.5,764V849M1696.5,770V842M1697.5,794V874M1698.5,777V839M1699.5,788V844M1700.5,773V849M1701.5,780V884M1702.5,785V884M1702.8,785V150M1787.5,10V119M1788.5,64V175M1789.5,117V205M1790.5,134V253M1791.5,187V294M1792.5,237V329M1793.5,284V406M1794.5,310V406M1795.5,322V418M1796.5,389V444M1797.5,391V482M1798.5,428V511M1799.5,433V532M1800.5,482V554M1801.5,493V586M1802.5,510V614M1803.5,530V619M1804.5,545V638M1805.5,555V644M1806.5,549V653M1807.5,582V666M1808.5,581V686M1809.5,615V684M1810.5,616V723M1811.5,633V751M1812.5,653V739M1813.5,647V748M1814.5,645V759M1815.5,669V725M1816.5,636V762M1817.5,675V757M1818.5,679V765M1819.5,686V754M1820.5,512V768M1821.5,690V848M1822.5,686V772M1823.5,685V771M1824.5,685V769M1825.5,701V822M1826.5,713V796M1827.5,719V788M1828.5,706V844M1829.5,700V831M1830.5,723V813M1831.5,719V795M1832.5,712V814M1833.5,742V821M1834.5,715V811M1835.5,708V821M1836.5,719V811M1837.5,708V824M1838.5,745V803M1839.5,754V843M1840.5,745V844M1841.5,707V838M1842.5,762V818M1843.5,755V799M1844.5,745V827M1845.5,740V833M1846.5,743V856M1847.5,754V830M1848.5,743V860M1849.5,753V838M1850.5,763V858M1851.5,755V854M1852.5,763V868M1853.5,754V807M1854.5,764V850M1855.5,763V850M1856.5,759V864M1857.5,777V868M1858.5,735V840M1859.5,735V837M1860.5,764V845M1861.5,782V863M1862.5,754V827M1863.5,754V833M1864.5,759V833M1865.5,769V867M1866.5,753V824M1867.5,775V873M1868.5,772V855M1869.5,748V815M1870.5,751V828M1871.5,739V822M1872.5,765V894M1873.5,762V863M1874.5,745V863M1875.5,749V861M1876.5,741V871M1877.5,756V849M1878.5,765V840M1879.5,627V838M1880.5,747V849M1881.5,704V844M1882.5,746V854M1883.5,733V854M1884.5,784V831M1885.5,728V841M1886.5,758V848M1887.5,758V830M1888.5,560V862M1889.5,747V856M1890.5,774V864M1891.5,777V843M1892.5,723V843M1893.5,773V847M1894.5,791V868M1895.5,759V852M1896.5,743V832M1897.5,734V858M1898.5,768V852M1899.5,747V846M1900.5,779V856M1901.5,775V869M1902.5,748V848M1903.5,693V852M1904.5,753V845M1905.5,761V842M1906.5,764V856M1907.5,764V826M1908.5,753V839M1909.5,764V838M1910.5,772V833M1911.5,761V830M1912.5,745V958M1913.5,780V852M1914.5,648V844M1915.5,783V844M1916.5,748V839M1917.5,744V856M1918.5,783V856M1919.5,753V867M1920.5,729V851M1921.5,755V870M1922.5,776V877M1923.5,781V829M1924.5,761V845M1925.5,745V878M1926.5,779V835M1927.5,752V861M1928.5,757V852M1929.5,737V839M1930.5,761V857M1931.5,776V888M1932.5,755V847M1933.5,774V851M1934.5,767V827" stroke="#ff0000"/></g></svg></body></html>
